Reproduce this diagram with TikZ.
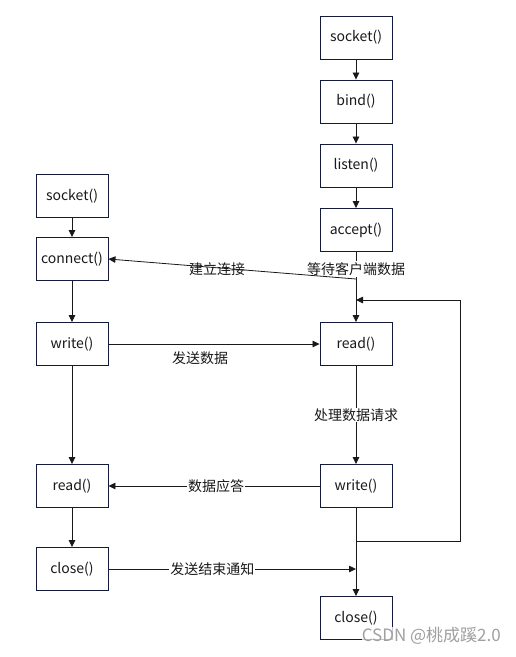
\documentclass[tikz,border=0pt]{standalone}
\usepackage{fontspec}
\setmainfont{Noto Sans CJK SC}
\usetikzlibrary{arrows.meta}
\definecolor{boxc}{RGB}{20,26,60}
\definecolor{linec}{RGB}{25,25,25}
\definecolor{wm}{RGB}{160,160,160}
\begin{document}
\begin{tikzpicture}[x=1pt,y=-1pt,
  box/.style={draw=boxc, line width=0.9pt, minimum width=72pt, minimum height=43pt, inner sep=0pt, text=black!90, font=\fontsize{14}{16}\selectfont},
  arr/.style={draw=linec, -{Triangle[length=7pt,width=6.5pt]}, line width=0.8pt},
  ln/.style={draw=linec, line width=0.8pt},
  lbl/.style={inner sep=1pt, text=black!90, font=\fontsize{14}{16}\selectfont},
  lblw/.style={lbl, fill=white}]
\useasboundingbox[fill=white] (0,0) rectangle (516,657);
% server column
\node[box] (ss) at (356,37.5) {socket()};
\node[box] (sb) at (356,101.5) {bind()};
\node[box] (sl) at (356,165.5) {listen()};
\node[box] (sa) at (356,230) {accept()};
\node[box] (sr) at (356,344) {read()};
\node[box] (sw) at (356,486) {write()};
\node[box] (sc) at (356,618) {close()};
% client column
\node[box] (cs) at (72,196) {socket()};
\node[box] (cc) at (72,259) {connect()};
\node[box] (cw) at (72,344) {write()};
\node[box] (cr) at (72,486) {read()};
\node[box] (cl) at (72,569) {close()};
% junction coordinates
\coordinate (j1) at (356,279);
\coordinate (loopin) at (356,300);
\coordinate (j2) at (356,541);
\coordinate (lr) at (460,541);
\coordinate (ur) at (460,300);
\coordinate (endin) at (356,569);
% server arrows
\draw[arr] (ss) -- (sb);
\draw[arr] (sb) -- (sl);
\draw[arr] (sl) -- (sa);
\draw[arr] (sa) -- (sr);
\node[lblw] (lwait) at (356,269) {等待客户端数据};
\draw[arr] (j1) -- (cc.east);
\node[lbl] (lconn) at (217,269) {建立连接};
\draw[ln] (j2) -- (lr) -- (ur);
\draw[arr] (ur) -- (loopin);
\draw[arr] (sr) -- node[lblw, pos=0.5] (lproc) {处理数据请求} (sw);
\draw[arr] (sw) -- (sc);
% client arrows
\draw[arr] (cs) -- (cc);
\draw[arr] (cc) -- (cw);
\draw[arr] (cw) -- (cr);
\draw[arr] (cr) -- (cl);
% cross arrows
\draw[arr] (cw.east) -- (sr.west);
\node[lbl] (lsend) at (200,358) {发送数据};
\draw[arr] (sw.west) -- node[lblw, pos=0.49] (lresp) {数据应答} (cr.east);
\draw[arr] (cl.east) -- node[lblw, pos=0.42] (lend) {发送结束通知} (endin);
% watermark
\node[text=wm, fill=white, fill opacity=0.75, text opacity=1, inner sep=0pt, font=\fontsize{17}{19}\selectfont, anchor=east] (wmk) at (501,636) {CSDN @桃成蹊2.0};
\end{tikzpicture}
\end{document}
